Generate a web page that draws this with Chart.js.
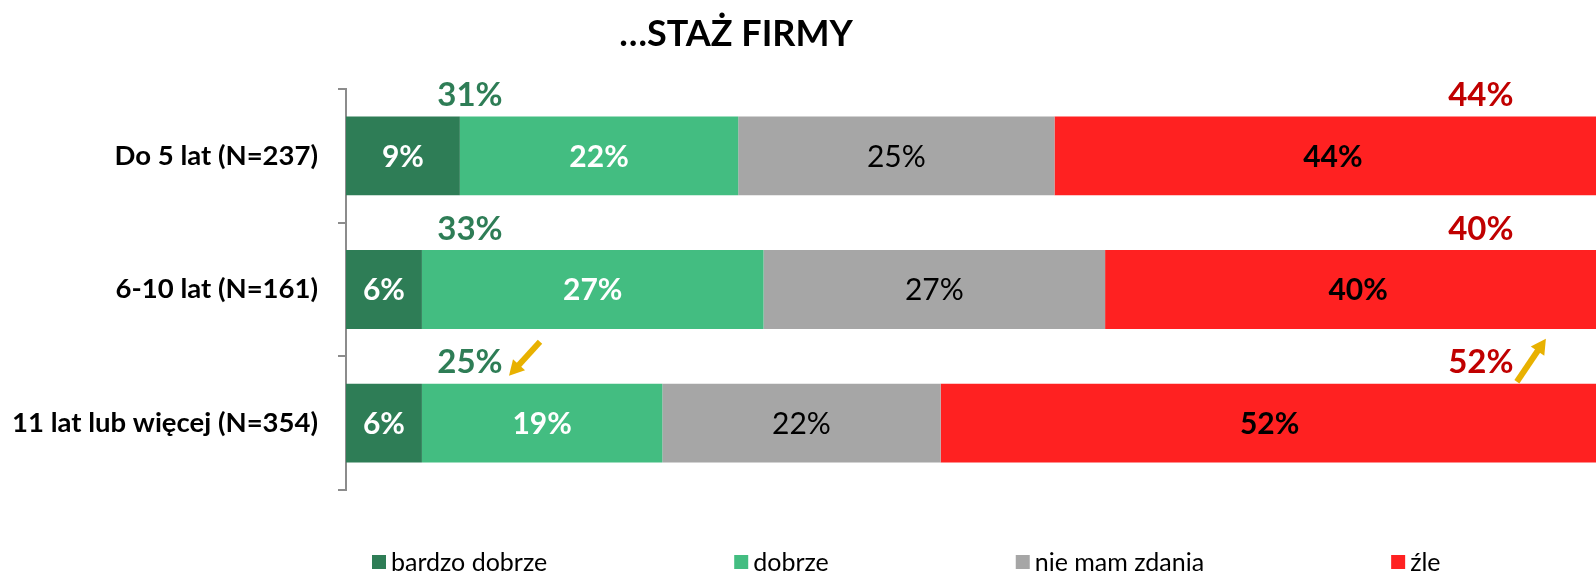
<!DOCTYPE html>
<html lang="pl">
<head>
<meta charset="utf-8">
<title>…STAŻ FIRMY</title>
<script src="https://cdn.jsdelivr.net/npm/chart.js@4.4.1/dist/chart.umd.min.js"></script>
<style>
  html, body { margin: 0; padding: 0; background: #fff; overflow: hidden; }
  canvas { display: block; }
</style>
</head>
<body>
<canvas id="myChart" width="1596" height="574"></canvas>
<script>
// Chart data
const chartTitle = "…STAŻ FIRMY"
const categories = ["Do 5 lat (N=237)", "6-10 lat (N=161)", "11 lat lub więcej (N=354)"]
const seriesNames = ["bardzo dobrze", "dobrze", "nie mam zdania", "źle"]
const bardzoDobrze = [9, 6, 6]
const dobrze = [22, 27, 19]
const nieMamZdania = [25, 27, 22]
const zle = [44, 40, 52]
// totals shown above the bars
const dobrzeRazem = [31, 33, 25]
const zleRazem = [44, 40, 52]
// arrows next to totals: 0 none, 1 up, -1 down
const dobrzeTrend = [0, 0, -1]
const zleTrend = [0, 0, 1]

const colors = ["#2e7d56", "#43bd81", "#a6a6a6", "#ff2121"]
const labelStyles = [
  {font: "bold 30px Lato", color: "#ffffff"},
  {font: "bold 30px Lato", color: "#ffffff"},
  {font: "30px Lato", color: "#000000"},
  {font: "bold 30px Lato", color: "#000000"}
]

// draw an arrow from (x1,y1) to (x2,y2)
function drawArrow(ctx, x1, y1, x2, y2) {
  const a = Math.atan2(y2 - y1, x2 - x1)
  const head = 17
  ctx.save()
  ctx.strokeStyle = "#e8b100"
  ctx.fillStyle = "#e8b100"
  ctx.lineWidth = 6
  ctx.beginPath()
  ctx.moveTo(x1, y1)
  ctx.lineTo(x2 - Math.cos(a) * head * 0.8, y2 - Math.sin(a) * head * 0.8)
  ctx.stroke()
  ctx.beginPath()
  ctx.moveTo(x2, y2)
  ctx.lineTo(x2 - Math.cos(a - 0.5) * head, y2 - Math.sin(a - 0.5) * head)
  ctx.lineTo(x2 - Math.cos(a + 0.5) * head, y2 - Math.sin(a + 0.5) * head)
  ctx.closePath()
  ctx.fill()
  ctx.restore()
}

// Labels inside the segments, totals above the bars, title and legend
const extrasPlugin = {
  id: "extras",
  afterDatasetsDraw(chart) {
    const ctx = chart.ctx
    const xScale = chart.scales.x
    ctx.save()
    ctx.textAlign = "center"
    ctx.textBaseline = "middle"

    chart.data.datasets.forEach((ds, i) => {
      const meta = chart.getDatasetMeta(i)
      meta.data.forEach((bar, j) => {
        const p = bar.getProps(["x", "y", "base"], true)
        ctx.font = labelStyles[i].font
        ctx.fillStyle = labelStyles[i].color
        ctx.fillText(ds.data[j] + "%", (p.x + p.base) / 2, p.y + 1)
      })
    })

    // totals above bars
    const meta0 = chart.getDatasetMeta(0)
    ctx.font = "bold 33px Lato"
    meta0.data.forEach((bar, j) => {
      const p = bar.getProps(["y", "height"], true)
      const y = p.y - p.height / 2 - 21
      const gx = xScale.getPixelForValue(9.8)
      const rx = xScale.getPixelForValue(89.7)
      ctx.fillStyle = "#2e7d56"
      ctx.fillText(dobrzeRazem[j] + "%", gx, y)
      ctx.fillStyle = "#c00000"
      ctx.fillText(zleRazem[j] + "%", rx, y)
      if (dobrzeTrend[j] < 0) drawArrow(ctx, gx + 70, y - 21, gx + 39, y + 13)
      if (dobrzeTrend[j] > 0) drawArrow(ctx, gx + 39, y + 13, gx + 70, y - 21)
      if (zleTrend[j] > 0) drawArrow(ctx, rx + 36, y + 19, rx + 65, y - 24)
      if (zleTrend[j] < 0) drawArrow(ctx, rx + 65, y - 24, rx + 36, y + 19)
    })

    // title
    ctx.fillStyle = "#000"
    ctx.font = "bold 36px Lato"
    ctx.fillText(chartTitle, 736, 34)

    // legend
    ctx.textAlign = "left"
    ctx.font = "25px Lato"
    let lx = 372
    const ly = 562
    seriesNames.forEach((name, i) => {
      ctx.fillStyle = colors[i]
      ctx.fillRect(lx, ly - 7, 14, 14)
      ctx.fillStyle = "#000"
      ctx.fillText(name, lx + 19, ly + 1)
      lx += 19 + ctx.measureText(name).width + 187
    })
    ctx.restore()
  }
}

const ctx = document.getElementById("myChart").getContext("2d")
const myChart = new Chart(ctx, {
  type: "bar",
  data: {
    labels: categories,
    datasets: [bardzoDobrze, dobrze, nieMamZdania, zle].map((d, i) => ({
      label: seriesNames[i],
      data: d,
      backgroundColor: colors[i],
      borderWidth: 0,
      categoryPercentage: 1,
      barPercentage: 0.59
    }))
  },
  options: {
    indexAxis: "y",
    responsive: false,
    animation: false,
    devicePixelRatio: 1,
    layout: {padding: {top: 89, bottom: 84, left: 0, right: 0}},
    plugins: {
      legend: {display: false},
      title: {display: false},
      tooltip: {enabled: false}
    },
    scales: {
      x: {
        stacked: true,
        display: false,
        min: 0,
        max: 98.8
      },
      y: {
        stacked: true,
        afterFit: (scale) => { scale.width = 346 },
        border: {display: true, color: "#8c8c8c", width: 2},
        grid: {
          offset: true,
          drawOnChartArea: false,
          drawTicks: true,
          tickLength: 8,
          color: "#8c8c8c",
          lineWidth: 2
        },
        ticks: {
          color: "#000",
          padding: 20,
          font: {family: "Lato", size: 27.5, weight: "bold"}
        }
      }
    }
  },
  plugins: [extrasPlugin]
})
</script>
</body>
</html>
